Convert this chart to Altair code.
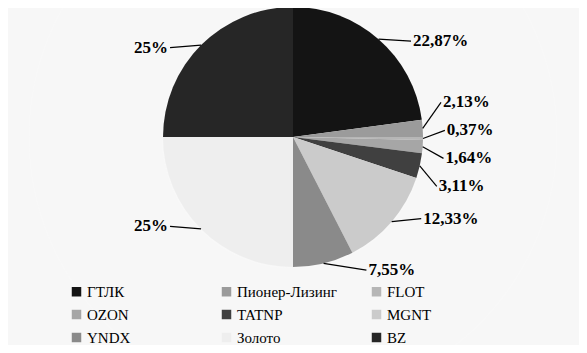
import altair as alt
import pandas as pd
import numpy as np

categories = ["ГТЛК", "Пионер-Лизинг", "FLOT", "OZON", "TATNP", "MGNT", "YNDX", "Золото", "BZ"]
shares = [22.87, 2.13, 0.37, 1.64, 3.11, 12.33, 7.55, 25.0, 25.0]
labels = ["22,87%", "2,13%", "0,37%", "1,64%", "3,11%", "12,33%", "7,55%", "25%", "25%"]
colors = ["#141414", "#9b9b9b", "#b6b6b6", "#a6a6a6", "#404040", "#cbcbcb", "#8a8a8a", "#eeeeee", "#262626"]

FONT = "Times New Roman, Liberation Serif, DejaVu Serif, serif"

# layout parameters
W, H = 570, 258
R = 130          # pie radius
RHO = 152        # label distance from centre
K = 0.8          # pull label angles toward the horizontal
GAP = 28         # minimum vertical label spacing

s = np.array(shares)
start = np.cumsum(s) - s
mid = np.radians((start + s / 2) / 100 * 360)
right = mid < np.pi
phi = np.where(right, np.pi / 2 + (mid - np.pi / 2) * K, 1.5 * np.pi + (mid - 1.5 * np.pi) * K)
lx = RHO * np.sin(phi)
ly = RHO * np.cos(phi)

def spread(idxs, ys):
    order = sorted(idxs, key=lambda i: -ys[i])
    clusters = [[i] for i in order]
    pos = {i: ys[i] for i in order}
    changed = True
    while changed:
        changed = False
        new = [clusters[0]]
        for c in clusters[1:]:
            prev = new[-1]
            if pos[prev[-1]] - pos[c[0]] < GAP:
                merged = prev + c
                m = np.mean([ys[i] for i in merged])
                n = len(merged)
                for k, i in enumerate(merged):
                    pos[i] = m + GAP * ((n - 1) / 2 - k)
                new[-1] = merged
                changed = True
            else:
                new.append(c)
        clusters = new
    return pos

ly_adj = ly.copy()
for side in (True, False):
    idxs = [i for i in range(len(s)) if right[i] == side]
    pos = spread(idxs, ly)
    for i, v in pos.items():
        ly_adj[i] = v
lx_adj = np.where(np.abs(ly_adj) < RHO, np.sign(lx) * np.sqrt(np.maximum(RHO**2 - ly_adj**2, 0)), lx)

df = pd.DataFrame({
    "cat": categories,
    "share": shares,
    "label": labels,
    "idx": list(range(len(categories))),
    "lx": lx_adj,
    "ly": ly_adj,
    "ex": R * np.sin(mid),
    "ey": R * np.cos(mid),
    "side": np.where(right, "r", "l"),
})

xs = alt.Scale(domain=[-W / 2, W / 2], nice=False, zero=False)
ys = alt.Scale(domain=[-H / 2, H / 2], nice=False, zero=False)

shadow = alt.Chart(pd.DataFrame({"r": [131, 133, 135, 137, 139]})).mark_arc(
    theta=0, theta2=2 * np.pi, color="black", opacity=0.03
).encode(radius=alt.Radius("r:Q", scale=None))

pie = alt.Chart(df).mark_arc(outerRadius=R).encode(
    theta=alt.Theta("share:Q", stack=True),
    order=alt.Order("idx:Q"),
    color=alt.Color(
        "cat:N",
        scale=alt.Scale(domain=categories, range=colors),
        legend=alt.Legend(
            orient="none", legendX=61, legendY=276, direction="horizontal", columns=3,
            title=None, symbolType="square", symbolSize=90, symbolStrokeWidth=0,
            labelFont=FONT, labelFontSize=15, labelColor="black",
            columnPadding=32, rowPadding=7, gridAlign="all", labelOffset=3, padding=0,
        ),
    ),
)

leaders = alt.Chart(df).mark_rule(color="black", strokeWidth=1.2).encode(
    x=alt.X("ex:Q", scale=xs, axis=None),
    y=alt.Y("ey:Q", scale=ys, axis=None),
    x2="lx:Q",
    y2="ly:Q",
)

text_r = alt.Chart(df).transform_filter("datum.side == 'r'").mark_text(
    align="left", baseline="middle", dx=2, font=FONT, fontSize=17,
    fontWeight="bold", color="black"
).encode(x=alt.X("lx:Q", scale=xs, axis=None), y=alt.Y("ly:Q", scale=ys, axis=None), text="label:N")

text_l = alt.Chart(df).transform_filter("datum.side == 'l'").mark_text(
    align="right", baseline="middle", dx=-2, font=FONT, fontSize=17,
    fontWeight="bold", color="black"
).encode(x=alt.X("lx:Q", scale=xs, axis=None), y=alt.Y("ly:Q", scale=ys, axis=None), text="label:N")

chart = alt.layer(shadow, pie, leaders, text_r, text_l).properties(
    width=W, height=H,
    padding={"left": 0, "top": 0, "right": 1, "bottom": 79},
    autosize="none",
    background="white",
).configure_view(stroke=None)

chart.save("out.html", embed_options={"renderer": "svg", "actions": False})
